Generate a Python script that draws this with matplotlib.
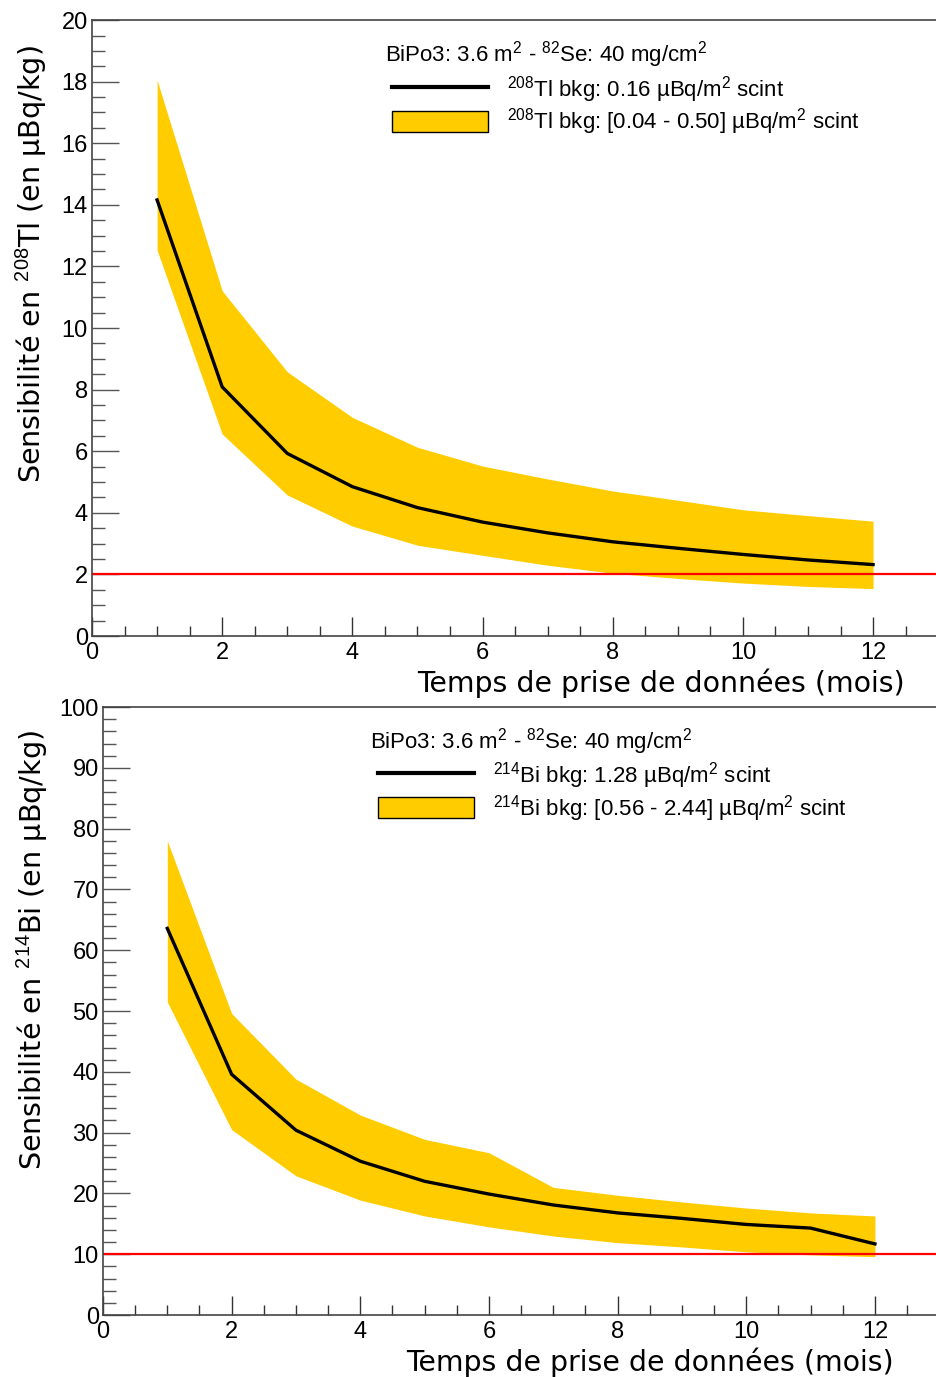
import numpy as np
import matplotlib
matplotlib.use('Agg')
import matplotlib.pyplot as plt
from matplotlib.lines import Line2D
from matplotlib.patches import Patch
from matplotlib.ticker import MultipleLocator

# months of data taking
mois = [1, 2, 3, 4, 5, 6, 7, 8, 9, 10, 11, 12]

# 208Tl sensitivity (uBq/kg)
tl_central = [14.16, 8.09, 5.93, 4.85, 4.17, 3.70, 3.35, 3.06, 2.85, 2.65, 2.47, 2.32]
tl_haut = [18.05, 11.21, 8.58, 7.10, 6.13, 5.52, 5.10, 4.71, 4.41, 4.10, 3.91, 3.73]
tl_bas = [12.53, 6.56, 4.58, 3.57, 2.95, 2.62, 2.30, 2.04, 1.87, 1.72, 1.61, 1.54]
tl_objectif = 2

# 214Bi sensitivity (uBq/kg)
bi_central = [63.6, 39.6, 30.4, 25.3, 22.0, 19.9, 18.1, 16.8, 15.9, 14.9, 14.3, 11.7]
bi_haut = [78.0, 49.6, 38.8, 32.9, 28.9, 26.7, 21.0, 19.7, 18.6, 17.6, 16.8, 16.3]
bi_bas = [51.5, 30.5, 22.9, 18.9, 16.3, 14.5, 13.0, 11.9, 11.2, 10.4, 9.9, 9.6]
bi_objectif = 10

jaune = '#ffcc00'
plt.rcParams['font.family'] = ['Liberation Sans', 'DejaVu Sans']
plt.rcParams['mathtext.fontset'] = 'custom'
plt.rcParams['mathtext.rm'] = 'Liberation Sans'
plt.rcParams['mathtext.it'] = 'Liberation Sans:italic'

fig = plt.figure(figsize=(9.36, 13.77), dpi=100)
ax1 = fig.add_axes([0.0983, 0.5381, 0.904, 0.4473])
ax2 = fig.add_axes([0.110, 0.0450, 0.8935, 0.4415])

titre_leg = 'BiPo3: 3.6 m$^2$ - $^{82}$Se: 40 mg/cm$^2$'


def panel(ax, central, haut, bas, objectif, ymax, ymaj, ymin, lab1, lab2, ylab,
          titre_xy, leg_xy, xlab_xy, ylab_xy):
    ax.fill_between(mois, bas, haut, color=jaune, lw=0)
    ax.plot(mois, central, color='black', lw=2.4)
    ax.axhline(objectif, color='#ff0000', lw=1.6)
    ax.set_xlim(0, 13)
    ax.set_ylim(0, ymax)
    ax.xaxis.set_major_locator(MultipleLocator(2))
    ax.xaxis.set_minor_locator(MultipleLocator(0.5))
    ax.yaxis.set_major_locator(MultipleLocator(ymaj))
    ax.yaxis.set_minor_locator(MultipleLocator(ymin))
    ax.tick_params(axis='x', which='major', direction='in', length=13.7, width=1, colors='#333333', labelsize=17, pad=4, labelcolor='black')
    ax.tick_params(axis='x', which='minor', direction='in', length=7.2, width=1, colors='#333333')
    ax.tick_params(axis='y', which='major', direction='in', length=19.2, width=1, colors='#555555', labelsize=17, pad=3, labelcolor='black')
    ax.tick_params(axis='y', which='minor', direction='in', length=9.6, width=1, colors='#555555')
    ax.spines['right'].set_visible(False)
    for s in ['left', 'bottom', 'top']:
        ax.spines[s].set_color('#444444')
        ax.spines[s].set_linewidth(1.2)
    ax.set_xlabel('Temps de prise de données (mois)', family='DejaVu Sans', fontsize=20.4, ha='right')
    ax.xaxis.set_label_coords(*xlab_xy)
    ax.set_ylabel(ylab, family='DejaVu Sans', fontsize=20.6, loc='top')
    ax.yaxis.set_label_coords(*ylab_xy)
    ax.text(titre_xy[0], titre_xy[1], titre_leg, transform=ax.transAxes, fontsize=16, va='baseline')
    handles = [Line2D([], [], color='black', lw=3),
               Patch(facecolor=jaune, edgecolor='black', lw=1)]
    ax.legend(handles, [lab1, lab2], loc='upper left', bbox_to_anchor=leg_xy, frameon=False,
              fontsize=16, handlelength=4.32, handleheight=1.08, handletextpad=0.86,
              labelspacing=0.09, borderpad=0, borderaxespad=0)


panel(ax1, tl_central, tl_haut, tl_bas, tl_objectif, 20, 2, 0.5,
      '$^{208}$Tl bkg: 0.16 µBq/m$^2$ scint',
      '$^{208}$Tl bkg: [0.04 - 0.50] µBq/m$^2$ scint',
      'Sensibilité en $^{208}$Tl (en µBq/kg)',
      (0.346, 0.933), (0.3546, 0.913), (0.961, -0.052), (-0.051, 0.959))

panel(ax2, bi_central, bi_haut, bi_bas, bi_objectif, 100, 10, 2,
      '$^{214}$Bi bkg: 1.28 µBq/m$^2$ scint',
      '$^{214}$Bi bkg: [0.56 - 2.44] µBq/m$^2$ scint',
      'Sensibilité en $^{214}$Bi (en µBq/kg)',
      (0.319, 0.9326), (0.329, 0.913), (0.945, -0.054), (-0.063, 0.962))

fig.savefig('out.png', dpi=100)
